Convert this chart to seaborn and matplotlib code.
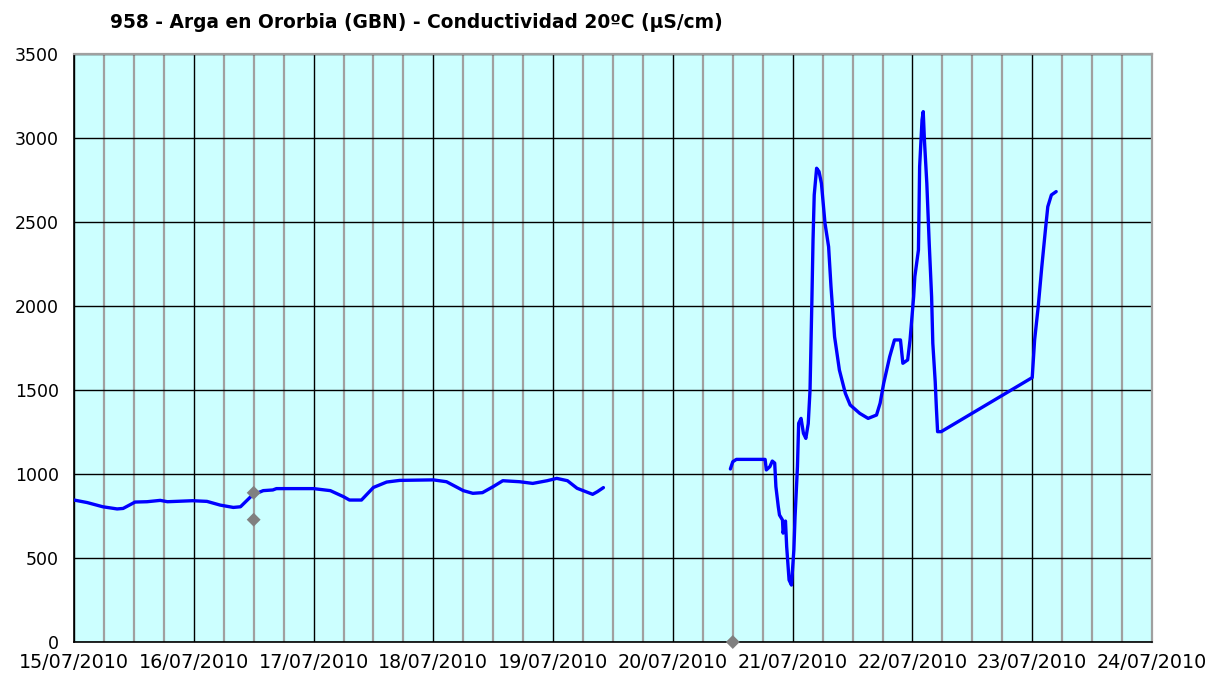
import numpy as np
import pandas as pd
import matplotlib
matplotlib.use("Agg")
import matplotlib.pyplot as plt
from matplotlib.ticker import MultipleLocator
import seaborn as sns

title = "958 - Arga en Ororbia (GBN) - Conductividad 20ºC (µS/cm)"
day_labels = ["15/07/2010", "16/07/2010", "17/07/2010", "18/07/2010", "19/07/2010",
              "20/07/2010", "21/07/2010", "22/07/2010", "23/07/2010", "24/07/2010"]
y_ticks = [0, 500, 1000, 1500, 2000, 2500, 3000, 3500]

# days since 15/07/2010 00:00
seg1_days = [0.00, 0.11, 0.24, 0.36, 0.41, 0.51, 0.61, 0.72, 0.78, 0.99, 1.11, 1.22, 1.33,
             1.39, 1.49, 1.58, 1.66, 1.69, 2.00, 2.14, 2.25, 2.30, 2.40, 2.50, 2.61, 2.72,
             3.00, 3.11, 3.25, 3.33, 3.41, 3.50, 3.58, 3.72, 3.83, 3.95, 4.03, 4.12, 4.20,
             4.33, 4.37, 4.42]
seg1_vals = [845, 830, 805, 792, 795, 833, 835, 843, 835, 841, 837, 815, 801,
             805, 875, 901, 905, 913, 913, 901, 865, 845, 845, 920, 952, 962,
             965, 954, 901, 885, 889, 925, 960, 954, 944, 960, 974, 960, 915,
             879, 895, 919]

seg2_days = [5.48, 5.50, 5.53, 5.77, 5.78, 5.81, 5.83, 5.85, 5.86, 5.88, 5.89, 5.915,
             5.92, 5.94, 5.95, 5.97, 5.99, 6.01, 6.02, 6.04, 6.05, 6.07, 6.09, 6.11,
             6.13, 6.145, 6.16, 6.17, 6.18, 6.20, 6.22, 6.24, 6.27, 6.30, 6.32, 6.35,
             6.39, 6.44, 6.48, 6.56, 6.63, 6.70, 6.73, 6.76, 6.81, 6.85, 6.90, 6.92,
             6.96, 6.98, 7.01, 7.02, 7.05, 7.06, 7.08, 7.09, 7.10, 7.12, 7.14, 7.16,
             7.17, 7.19, 7.20, 7.21, 7.24, 8.00, 8.02, 8.05, 8.08, 8.11, 8.13, 8.16, 8.20]
seg2_vals = [1030, 1073, 1087, 1087, 1024, 1044, 1077, 1065, 925, 805, 756, 726,
             648, 720, 567, 369, 339, 548, 746, 1044, 1302, 1331, 1242, 1212,
             1300, 1500, 2016, 2393, 2661, 2820, 2800, 2730, 2492, 2353, 2115, 1817,
             1619, 1480, 1411, 1361, 1331, 1351, 1421, 1540, 1698, 1798, 1798, 1659,
             1679, 1798, 2055, 2175, 2333, 2829, 3107, 3157, 2988, 2730, 2373, 2055,
             1778, 1550, 1391, 1252, 1252, 1574, 1798, 1996, 2234, 2452, 2591, 2661, 2681]

gray_days = [1.50, 1.50, 5.50]
gray_vals = [888, 728, 0]

df = pd.DataFrame({
    "day": seg1_days + seg2_days,
    "value": seg1_vals + seg2_vals,
    "segment": [1] * len(seg1_days) + [2] * len(seg2_days),
})
gdf = pd.DataFrame({"day": gray_days, "value": gray_vals})

sns.set_style("white")
plt.rcParams['font.family'] = ['DejaVu Sans']

fig = plt.figure(figsize=(12.21, 6.79), dpi=100)
ax = fig.add_axes([74 / 1221, 1 - 642 / 679, (1152 - 74) / 1221, (642 - 54) / 679])
ax.set_facecolor("#CCFFFF")

ax.set_xlim(0, 9)
ax.set_ylim(0, 3500)

# grid
ax.xaxis.set_major_locator(MultipleLocator(1))
ax.xaxis.set_minor_locator(MultipleLocator(0.25))
ax.yaxis.set_major_locator(MultipleLocator(500))
ax.grid(which="minor", axis="x", color="#A0A0A0", linewidth=1.6, zorder=0)
ax.grid(which="major", axis="x", color="#000000", linewidth=1.0, zorder=0)
ax.grid(which="major", axis="y", color="#000000", linewidth=1.0, zorder=0)
ax.set_axisbelow(True)

sns.lineplot(data=df, x="day", y="value", units="segment", estimator=None, sort=False,
             color="#0000FF", linewidth=2.4, ax=ax, zorder=3)
sns.scatterplot(data=gdf, x="day", y="value", marker="D", color="#808080", s=50,
                edgecolor="none", ax=ax, zorder=4, clip_on=False)

ax.set_xticks(range(len(day_labels)))
ax.set_xticklabels(day_labels)
ax.set_yticks(y_ticks)
ax.set_yticklabels([str(v) for v in y_ticks])
ax.tick_params(axis="both", which="major", direction="out", length=5, width=1,
               color="black", labelcolor="black")
ax.tick_params(axis="x", which="major", pad=3, labelsize=13.8)
ax.tick_params(axis="y", which="major", pad=6, labelsize=12.5)
ax.tick_params(axis="x", which="minor", length=0)
ax.set_xlabel("")
ax.set_ylabel("")

for side in ["left", "bottom"]:
    ax.spines[side].set_color("black")
    ax.spines[side].set_linewidth(1.2)
for side in ["top", "right"]:
    ax.spines[side].set_color("#A0A0A0")
    ax.spines[side].set_linewidth(1.6)

fig.text(110 / 1221, 1 - 22 / 679, title, ha="left", va="center",
         fontsize=13.4, fontweight="bold", color="black")

fig.savefig("out.png", dpi=100, facecolor="white")
